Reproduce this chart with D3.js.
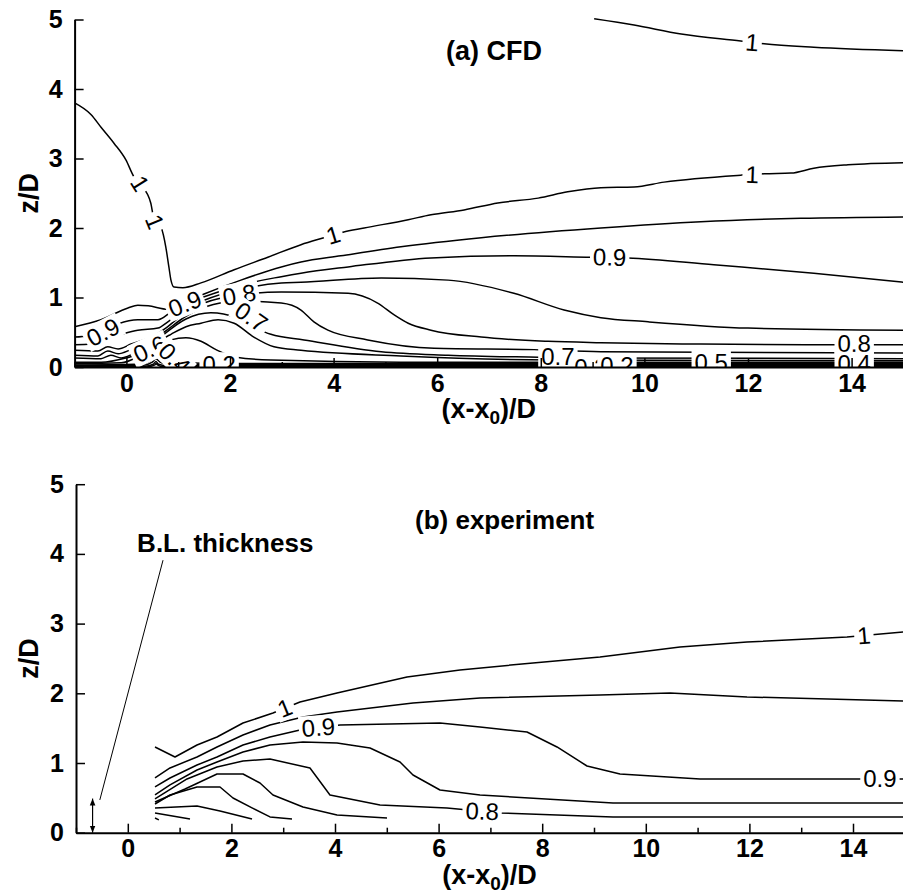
<!DOCTYPE html>
<html><head><meta charset="utf-8">
<script src="https://cdn.jsdelivr.net/npm/d3@7"></script>
<style>body{margin:0;background:#fff}svg{display:block}</style>
</head><body>
<svg id="c" width="903" height="896"></svg>
<script>
// ---------- axis ticks ----------
const xMajorTicks = [0, 2, 4, 6, 8, 10, 12, 14];
const xMinorTicks = [-1, 1, 3, 5, 7, 9, 11, 13, 15];
const yTicks = [0, 1, 2, 3, 4, 5];

// ---------- (a) CFD contour lines : [x/D, z/D] ----------
const cfd_100_top = [[9.03,5.01],[9.80,4.92],[10.71,4.79],[11.86,4.69],[12.31,4.65],[13.27,4.60],[15.0,4.55]];
const cfd_100 = [[-1.0,3.80],[-0.68,3.63],[-0.49,3.45],[-0.24,3.22],[-0.01,2.98],[0.15,2.73],[0.28,2.62],[0.47,2.36],[0.53,2.14],[0.67,2.01],[0.76,1.73],[0.82,1.44],[0.86,1.25],[0.92,1.15],[1.09,1.14],[1.44,1.21],[2.08,1.40],[2.73,1.58],[3.37,1.76],[3.81,1.86],[3.99,1.90],[4.18,1.94],[4.59,2.00],[5.44,2.12],[5.88,2.19],[6.52,2.26],[7.17,2.36],[7.95,2.43],[8.52,2.52],[9.16,2.58],[9.80,2.59],[10.38,2.66],[11.86,2.76],[12.31,2.78],[12.83,2.79],[13.27,2.86],[13.93,2.91],[15.0,2.94]];
const cfd_095 = [[-1,0.58],[-0.49,0.68],[0.03,0.85],[0.22,0.89],[0.42,0.88],[0.80,0.83],[1.15,0.94],[1.50,1.05],[2.21,1.25],[2.99,1.44],[3.37,1.51],[4.14,1.60],[5.30,1.73],[6.85,1.86],[9.16,2.00],[11.09,2.09],[13.02,2.14],[15,2.16]];
const cfd_090 = [[-1,0.43],[-0.74,0.45],[-0.45,0.52],[-0.16,0.62],[0.22,0.68],[0.61,0.68],[0.86,0.79],[1.13,0.91],[1.50,1.01],[2.21,1.18],[2.99,1.30],[3.37,1.35],[4.28,1.44],[5.88,1.57],[7.48,1.60],[8.97,1.58],[9.68,1.57],[11.34,1.47],[13.27,1.35],[15,1.22]];
const cfd_085 = [[-1,0.32],[-0.68,0.33],[-0.10,0.47],[0.22,0.53],[0.61,0.56],[0.80,0.65],[1.15,0.83],[1.50,0.96],[2.21,1.12],[2.99,1.21],[3.37,1.22],[4.92,1.28],[6.21,1.25],[7.48,1.06],[8.45,0.82],[9.16,0.71],[10.07,0.65],[12.0,0.56],[15,0.53]];
const cfd_080 = [[-1,0.24],[-0.55,0.23],[-0.36,0.29],[-0.16,0.26],[0.09,0.33],[0.53,0.45],[0.76,0.56],[1.15,0.79],[1.50,0.92],[2.21,1.04],[2.99,1.08],[4.28,1.06],[4.85,0.92],[5.17,0.75],[5.44,0.63],[5.88,0.53],[6.85,0.43],[8.14,0.37],[9.16,0.35],[11.09,0.33],[13.74,0.32],[15,0.32]];
const cfd_075 = [[-1,0.17],[-0.55,0.16],[-0.36,0.23],[-0.16,0.19],[0.09,0.25],[0.48,0.37],[0.76,0.52],[1.15,0.73],[1.50,0.86],[2.21,0.95],[2.99,0.92],[3.37,0.82],[3.62,0.65],[3.89,0.53],[4.66,0.39],[5.94,0.27],[7.87,0.25],[9.16,0.22],[15,0.20]];
const cfd_070 = [[-1,0.13],[-0.49,0.12],[-0.30,0.17],[-0.10,0.13],[0.28,0.25],[0.57,0.37],[0.76,0.49],[1.15,0.69],[1.63,0.78],[2.12,0.71],[2.50,0.56],[2.79,0.47],[3.43,0.39],[4.92,0.22],[6.21,0.17],[7.95,0.14],[8.68,0.13],[15,0.12]];
const cfd_065 = [[-1,0.07],[-0.49,0.07],[-0.01,0.13],[0.38,0.23],[0.67,0.39],[0.86,0.47],[1.15,0.58],[1.44,0.63],[1.77,0.68],[2.08,0.63],[2.46,0.43],[2.85,0.29],[3.37,0.24],[5.30,0.16],[8.20,0.10],[15,0.09]];
const cfd_060 = [[-1,0.045],[-0.10,0.06],[0.28,0.17],[0.57,0.29],[0.86,0.39],[1.15,0.42],[1.44,0.37],[1.73,0.25],[2.12,0.14],[2.79,0.10],[5.30,0.07],[15,0.07]];
const cfd_055 = [[-1,0.03],[0.18,0.04],[0.45,0.12],[0.57,0.20],[0.72,0.12],[1.0,0.06],[2.0,0.05],[15,0.05]];
const cfd_050 = [[-1,0.022],[0.25,0.03],[0.47,0.09],[0.57,0.16],[0.68,0.09],[0.95,0.035],[15,0.035]];
const cfd_045 = [[-1,0.014],[0.30,0.02],[0.50,0.07],[0.57,0.12],[0.65,0.07],[0.85,0.025],[15,0.025]];
const cfd_040 = [[-1,0.007],[0.35,0.01],[0.52,0.04],[0.57,0.08],[0.62,0.04],[0.80,0.015],[15,0.015]];
const cfd_035 = [[0.40,0.0],[0.55,0.03],[0.57,0.05],[0.60,0.03],[0.70,0.006],[15,0.007]];
const cfdLines = [cfd_100_top, cfd_100, cfd_095, cfd_090, cfd_085, cfd_080, cfd_075, cfd_070, cfd_065, cfd_060, cfd_055, cfd_050, cfd_045, cfd_040, cfd_035];

// contour labels: text, x, z, angle
const cfdLabels = [
  {t:"1", x:12.08, z:4.67, a:5},
  {t:"1", x:12.08, z:2.77, a:2},
  {t:"1", x:3.99, z:1.90, a:-17},
  {t:"1", x:0.26, z:2.64, a:58},
  {t:"1", x:0.55, z:2.09, a:68},
  {t:"0.9", x:9.33, z:1.58, a:1},
  {t:"0.8", x:14.05, z:0.33, a:0},
  {t:"0.7", x:8.33, z:0.15, a:0},
  {t:"0.9", x:1.13, z:0.91, a:-22},
  {t:"0.8", x:2.18, z:1.04, a:-10},
  {t:"0.7", x:2.41, z:0.72, a:35},
  {t:"0.9", x:-0.45, z:0.50, a:-28},
  {t:"0.6", x:0.45, z:0.26, a:-25},
  {t:"0.4", x:0.93, z:0.12, a:45},
  {t:"0.2", x:1.79, z:0.04, a:0},
  {t:"0.3", x:8.97, z:-0.01, a:0},
  {t:"0.2", x:9.47, z:0.02, a:0},
  {t:"0.5", x:11.29, z:0.07, a:0},
  {t:"0.4", x:14.05, z:0.045, a:0}
];

// ---------- (b) experiment contour lines ----------
const exp_100 = [[0.525,1.230],[0.911,1.086],[1.336,1.258],[1.722,1.373],[2.224,1.574],[2.803,1.717],[3.324,1.875],[4.039,2.004],[5.390,2.234],[6.413,2.335],[7.822,2.435],[9.116,2.521],[10.660,2.664],[11.954,2.736],[13.884,2.808],[15,2.880]];
const exp_095 = [[0.525,0.785],[0.815,0.929],[1.336,1.086],[1.722,1.230],[2.224,1.402],[2.745,1.546],[3.382,1.660],[4.039,1.732],[5.506,1.861],[6.799,1.933],[9.116,1.976],[10.467,2.005],[11.954,1.947],[15,1.890]];
const exp_090 = [[0.525,0.656],[0.815,0.785],[1.336,0.971],[1.722,1.086],[2.224,1.258],[2.745,1.373],[3.324,1.474],[4.097,1.545],[6.027,1.574],[6.799,1.517],[7.707,1.445],[8.286,1.230],[8.865,0.957],[9.502,0.842],[11.046,0.770],[15,0.770]];
const exp_085 = [[0.525,0.541],[0.815,0.685],[1.336,0.900],[1.722,1.015],[2.224,1.158],[2.745,1.258],[3.382,1.301],[4.039,1.287],[4.676,1.215],[5.255,1.014],[5.506,0.828],[6.027,0.613],[6.799,0.541],[9.367,0.426],[15,0.426]];
const exp_080 = [[0.525,0.484],[1.143,0.771],[1.722,0.943],[2.224,1.029],[2.745,1.057],[3.517,0.928],[3.903,0.541],[4.869,0.398],[6.162,0.355],[7.185,0.283],[9.367,0.226],[15,0.226]];
const exp_075 = [[0.525,0.441],[1.105,0.627],[1.722,0.842],[2.224,0.842],[2.552,0.713],[2.803,0.541],[3.382,0.369],[4.039,0.254],[5.004,0.211]];
const exp_070 = [[0.525,0.412],[0.815,0.541],[1.336,0.656],[1.780,0.656],[2.031,0.498],[2.398,0.355],[2.745,0.226],[3.170,0.197]];
const exp_065 = [[0.525,0.355],[1.336,0.384],[1.780,0.312],[2.398,0.197]];
const exp_060 = [[0.525,0.283],[1.201,0.197]];
const exp_055 = [[0.525,0.211],[0.60,0.185]];
const expLines = [exp_100, exp_095, exp_090, exp_085, exp_080, exp_075, exp_070, exp_065, exp_060, exp_055];

const expLabels = [
  {t:"1", x:3.03, z:1.79, a:-22},
  {t:"1", x:14.21, z:2.83, a:-5},
  {t:"0.9", x:3.68, z:1.51, a:-4},
  {t:"0.9", x:14.52, z:0.77, a:0},
  {t:"0.8", x:6.84, z:0.307, a:2}
];

// boundary-layer annotation
const blArrow = [[-0.68, 0.0], [-0.68, 0.49]];
const blLeader = [[-0.54, 0.47], [0.68, 3.91]];
const blText = {t:"B.L. thickness", x:0.18, z:4.03};

// ---------- drawing ----------
const svg = d3.select('#c');
const FONT = '"Liberation Sans", Arial, Helvetica, sans-serif';
const defs = svg.append('defs');
['s','e'].forEach(k=>{
  defs.append('marker').attr('id','arr'+k).attr('viewBox','0 0 10 10')
    .attr('refX', k==='e'?10:0).attr('refY',5).attr('markerWidth',7).attr('markerHeight',8)
    .attr('markerUnits','userSpaceOnUse').attr('orient','auto')
    .append('path').attr('d', k==='e' ? 'M0,1 L10,5 L0,9 Z' : 'M10,1 L0,5 L10,9 Z').attr('fill','#000');
});

function panel(cfg){
  const x = d3.scaleLinear().domain([-1,15]).range([cfg.x0, cfg.x0 + 16*51.8]);
  const y = d3.scaleLinear().domain([0,5]).range([cfg.yb, cfg.yb - 5*cfg.pu]);
  const g = svg.append('g');
  const clipId = 'clip' + cfg.id;
  defs.append('clipPath').attr('id', clipId).append('rect')
    .attr('x', x(-1)).attr('y', y(5) - 3)
    .attr('width', x(15) - x(-1)).attr('height', y(0) - y(5) + 3);
  const plot = g.append('g').attr('clip-path', `url(#${clipId})`);
  const line = d3.line().x(d=>x(d[0])).y(d=>y(d[1])).curve(cfg.curve);
  plot.selectAll('path.cl').data(cfg.lines).join('path').attr('class','cl')
    .attr('d', line).attr('fill','none').attr('stroke','#000')
    .attr('stroke-width',1.5).attr('stroke-linejoin','round');

  const lg = plot.selectAll('g.lab').data(cfg.labels).join('g').attr('class','lab')
    .attr('transform', d=>`translate(${x(d.x)},${y(d.z)}) rotate(${d.a})`);
  lg.each(function(d){
    const s = d3.select(this);
    const t = s.append('text').text(d.t).attr('text-anchor','middle').attr('dy','0.35em')
      .attr('font-family', FONT).attr('font-size', 24).attr('fill','#000');
    const b = t.node().getBBox();
    s.insert('rect','text').attr('x', b.x - 3).attr('y', -12)
      .attr('width', b.width + 6).attr('height', 24).attr('fill','#fff');
  });

  // axes
  const ax = g.append('g').attr('transform', `translate(0,${y(0)})`);
  ax.call(d3.axisBottom(x).tickValues(xMajorTicks).tickSize(-9).tickSizeOuter(0).tickPadding(7).tickFormat(d3.format('d')));
  const axm = g.append('g').attr('transform', `translate(0,${y(0)})`);
  axm.call(d3.axisBottom(x).tickValues(xMinorTicks).tickSize(-5).tickSizeOuter(0).tickFormat(''));
  axm.select('.domain').remove();
  const ay = g.append('g').attr('transform', `translate(${x(-1)},0)`);
  ay.call(d3.axisLeft(y).tickValues(yTicks).tickSize(-9).tickSizeOuter(0).tickPadding(12).tickFormat(d3.format('d')));
  g.selectAll('.domain').attr('stroke','#000').attr('stroke-width',2);
  g.selectAll('.tick line').attr('stroke','#000').attr('stroke-width',1.5);
  g.selectAll('.tick text').attr('font-family', FONT).attr('font-size', 25)
    .attr('font-weight','bold').attr('fill','#000');

  // axis titles
  const xt = g.append('text').attr('x', (x(-1)+903)/2).attr('y', y(0) + 51)
    .attr('text-anchor','middle').attr('font-family',FONT).attr('font-size',27).attr('font-weight','bold');
  xt.append('tspan').text('(x-x');
  xt.append('tspan').text('0').attr('font-size',19).attr('dy',6);
  xt.append('tspan').text(')/D').attr('dy',-6);
  g.append('text').attr('transform', `translate(38,${(y(0)+y(5))/2}) rotate(-90)`)
    .attr('text-anchor','middle').attr('font-family',FONT).attr('font-size',27)
    .attr('font-weight','bold').text('z/D');
  g.append('text').attr('x', cfg.titleX).attr('y', cfg.titleY)
    .attr('font-family',FONT).attr('font-size',cfg.titleSize).attr('font-weight','bold').text(cfg.title);
  return {x, y, g};
}

panel({id:'a', x0:74.6, yb:367, pu:69.5, curve:d3.curveMonotoneX, lines:cfdLines, labels:cfdLabels,
       title:'(a) CFD', titleX:446, titleY:60, titleSize:27});
const pb = panel({id:'b', x0:76.0, yb:832.7, pu:69.7, curve:d3.curveLinear, lines:expLines, labels:expLabels,
       title:'(b) experiment', titleX:415, titleY:529, titleSize:26});

// B.L. thickness annotation
const lineB = d3.line().x(d=>pb.x(d[0])).y(d=>pb.y(d[1]));
pb.g.append('path').attr('d', lineB(blLeader)).attr('stroke','#000').attr('stroke-width',1).attr('fill','none');
pb.g.append('path').attr('d', lineB(blArrow)).attr('stroke','#000').attr('stroke-width',1.2).attr('fill','none')
  .attr('marker-start','url(#arrs)').attr('marker-end','url(#arre)');
pb.g.append('text').attr('x', pb.x(blText.x)).attr('y', pb.y(blText.z))
  .attr('font-family',FONT).attr('font-size',26).attr('font-weight','bold').text(blText.t);
</script>
</body></html>
